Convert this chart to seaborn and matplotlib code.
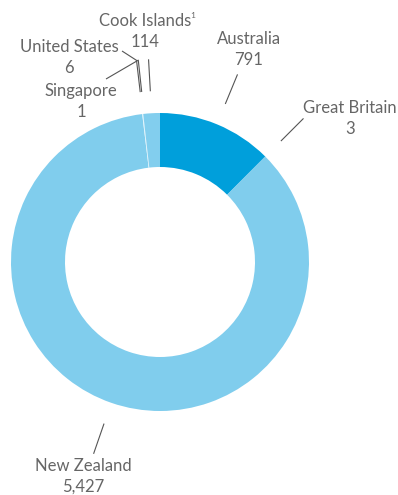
import matplotlib
matplotlib.use("Agg")
import numpy as np
import matplotlib.pyplot as plt
import seaborn as sns

# Data
countries = ["Australia", "Great Britain", "New Zealand", "Singapore", "United States", "Cook Islands"]
counts = [791, 3, 5427, 1, 6, 114]
name_labels = ["Australia", "Great Britain", "New Zealand", "Singapore", "United States", "Cook Islands"]
colors = ["#009FDB", "#2FAEE2", "#80CDED", "#C9EAF8", "#DDF2FB", "#82CEEE"]

sns.set_theme(style="white")
plt.rcParams["font.family"] = ["Lato", "DejaVu Sans"]

W, H = 398, 495
fig = plt.figure(figsize=(W / 100, H / 100), dpi=100)
ax = fig.add_axes([0, 0, 1, 1])

# donut geometry in pixel units (y measured from the top)
cx, cy_top = 160, 262
cy = H - cy_top
R_out, R_in = 149, 95

wedges, _ = ax.pie(
    counts, colors=colors, startangle=90, counterclock=False,
    center=(cx, cy), radius=R_out,
    wedgeprops=dict(width=R_out - R_in, linewidth=0),
)
ax.set_xlim(0, W)
ax.set_ylim(0, H)
ax.set_aspect("equal")
ax.axis("off")

# label placement (x centre, y of the name line, measured from the top)
label_pos = {
    "Australia": (249, 39),
    "Great Britain": (350, 108),
    "New Zealand": (83, 466),
    "Singapore": (81, 91),
    "United States": (69, 47),
    "Cook Islands": (145, 21),
}
# small angular spread for the two leaders that sit almost on top of each other
leader_nudge = {"Singapore": -0.7, "United States": 0.0}
# extra elbow segment from the top of the leader to the label
leader_tail = {"Singapore": (106, 79), "United States": (122, 51)}

text_color = "#666666"
line_color = "#555555"
font_kw = dict(fontsize=12, fontweight="normal", color=text_color)
r1, r2 = 171, 203

for w, name, shown, v in zip(wedges, countries, name_labels, counts):
    mid = np.deg2rad((w.theta1 + w.theta2) / 2 + leader_nudge.get(name, 0.0))
    x1, y1 = cx + r1 * np.cos(mid), cy + r1 * np.sin(mid)
    x2, y2 = cx + r2 * np.cos(mid), cy + r2 * np.sin(mid)
    xs, ys = [x1, x2], [y1, y2]
    if name in leader_tail:
        tx, ty = leader_tail[name]
        xs.append(tx)
        ys.append(H - ty)
    ax.plot(xs, ys, color=line_color, lw=0.8, solid_capstyle="butt")

    lx, ly = label_pos[name]
    ax.text(lx, H - ly, shown, ha="center", va="center", **font_kw)
    ax.text(lx, H - ly - 21, f"{v:,}", ha="center", va="center", **font_kw)

# footnote marker after "Cook Islands"
fig.canvas.draw()
t_cook = [t for t in ax.texts if t.get_text() == "Cook Islands"][0]
bb = t_cook.get_window_extent().transformed(ax.transData.inverted())
ax.text(bb.x1 - 1, bb.y1 + 1, "1", ha="left", va="top", fontsize=6,
        color=text_color)

fig.savefig("out.png", dpi=100, facecolor="white")
